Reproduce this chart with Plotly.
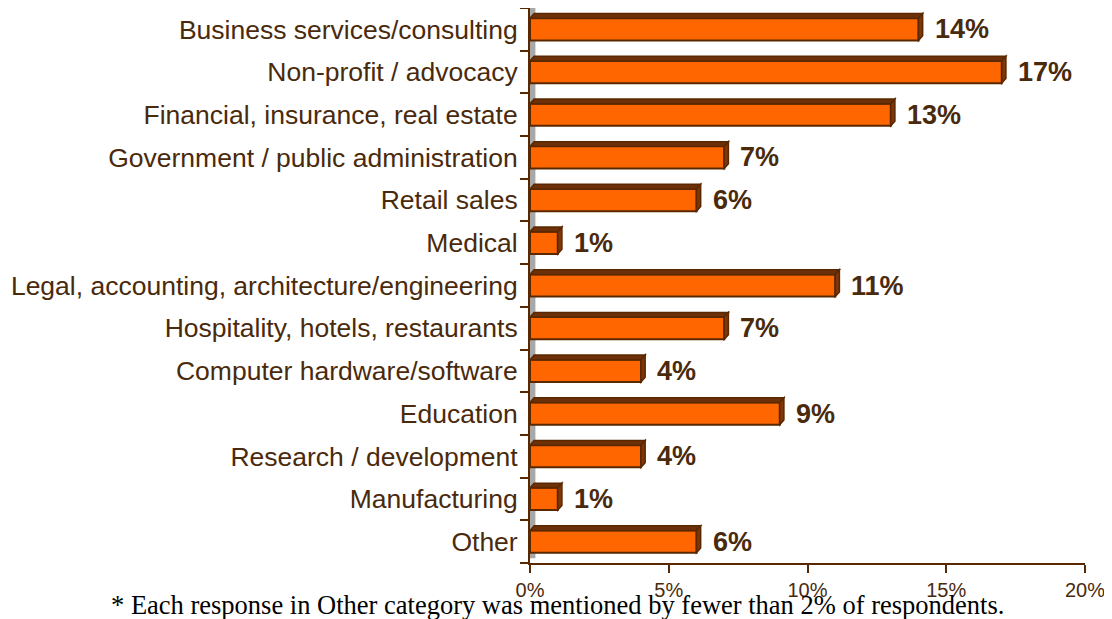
import plotly.graph_objects as go

categories = [
    "Business services/consulting",
    "Non-profit / advocacy",
    "Financial, insurance, real estate",
    "Government / public administration",
    "Retail sales",
    "Medical",
    "Legal, accounting, architecture/engineering",
    "Hospitality, hotels, restaurants",
    "Computer hardware/software",
    "Education",
    "Research / development",
    "Manufacturing",
    "Other",
]
values = [14, 17, 13, 7, 6, 1, 11, 7, 4, 9, 4, 1, 6]
x_ticks = [0, 5, 10, 15, 20]
x_tick_labels = ["0%", "5%", "10%", "15%", "20%"]
footnote = "* Each response in Other category was mentioned by fewer than 2% of respondents."

TEXT = "#4a2a0c"
EDGE = "#5a2800"
FRONT = "#ff6600"
SIDE = "#7e360a"
TOP = "#6e3008"

W = 0.52      # bar thickness (category units)
DX = 0.15     # depth in % units
DY = 0.11     # depth in category units

# page body has an 8px margin; figure is sized to fit the window
FIG_W, FIG_H = 1104, 611
L, R, T, B = 522, 27, 0, 56

pos = list(range(len(categories)))

fig = go.Figure()
fig.add_trace(go.Bar(
    x=values, y=pos, orientation="h", width=W,
    marker=dict(color=FRONT, line=dict(color=EDGE, width=2)),
    hoverinfo="skip",
))

shapes = []
shapes.append(dict(type="rect", xref="x", yref="y", x0=0, x1=DX * 1.3,
                   y0=-0.5 - DY, y1=len(categories) - 0.5 - DY,
                   fillcolor="#a8a8a8", line=dict(width=0), layer="below"))
for i, v in zip(pos, values):
    yt = i - W / 2
    yb = i + W / 2
    top = f"M 0 {yt} L {v} {yt} L {v + DX} {yt - DY} L {DX} {yt - DY} Z"
    side = f"M {v} {yt} L {v} {yb} L {v + DX} {yb - DY} L {v + DX} {yt - DY} Z"
    shapes.append(dict(type="path", xref="x", yref="y", path=top,
                       fillcolor=TOP, line=dict(color=EDGE, width=1.5), layer="above"))
    shapes.append(dict(type="path", xref="x", yref="y", path=side,
                       fillcolor=SIDE, line=dict(color=EDGE, width=1.5), layer="above"))

plot_w = FIG_W - L - R
plot_h = FIG_H - T - B
annotations = []
for i, v in zip(pos, values):
    annotations.append(dict(x=v + DX, y=i, xref="x", yref="y", text=f"<b>{v}%</b>",
                            showarrow=False, xanchor="left", yanchor="middle", xshift=10,
                            font=dict(family="Liberation Sans, Arial", size=27, color=TEXT)))
annotations.append(dict(x=(549 - L) / plot_w, y=-42 / plot_h, xref="paper", yref="paper",
                        text=footnote, showarrow=False, xanchor="center", yanchor="middle",
                        font=dict(family="Liberation Serif, Times New Roman", size=26.5, color="#000000")))

boundaries = [p - 0.5 for p in pos] + [len(categories) - 0.5]

fig.update_layout(
    width=FIG_W, height=FIG_H,
    margin=dict(l=L, r=R, t=T, b=B, pad=0),
    paper_bgcolor="white", plot_bgcolor="white",
    showlegend=False,
    shapes=shapes, annotations=annotations,
    font=dict(family="Liberation Sans, Arial", color=TEXT),
    xaxis=dict(range=[0, 20], tickvals=x_ticks, ticktext=x_tick_labels,
               showgrid=False, zeroline=False, showline=True, linecolor=EDGE, linewidth=2,
               ticks="outside", ticklen=8, tickwidth=2, tickcolor=EDGE,
               tickfont=dict(size=20, color=TEXT), automargin=False),
    yaxis=dict(range=[len(categories) - 0.5, -0.5], tickvals=pos, ticktext=categories,
               showgrid=False, zeroline=False, showline=True, linecolor=EDGE, linewidth=2,
               ticks="", ticklabelstandoff=5, automargin=False,
               minor=dict(tickvals=boundaries, ticks="outside", ticklen=8, tickwidth=2,
                          tickcolor=EDGE, showgrid=False),
               tickfont=dict(size=26.5, color=TEXT)),
)

fig.write_html("out.html")
